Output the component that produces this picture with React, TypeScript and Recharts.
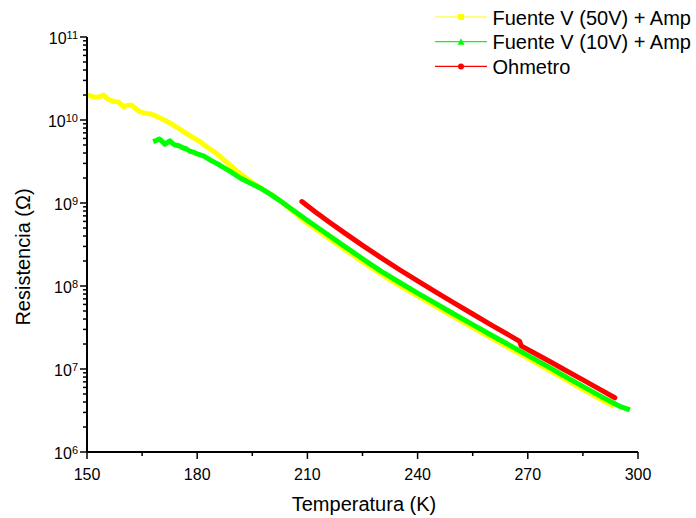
import React from 'react';
import { LineChart, Line, XAxis, YAxis, Legend } from 'recharts';

// Fuente V (50V) + Amp: temperature (K) and resistance (Ohm)
const t50 = [150, 151, 152, 153, 154, 154.5, 155.5, 157, 158.5, 160, 161, 162, 163, 164.5, 166, 167.5, 169, 170.5, 172, 173.5, 175, 177, 179, 181, 182.5, 184.4, 186, 188, 190, 192, 194, 196, 198, 200, 202.5, 205, 210, 215, 220, 225, 230, 235, 240, 245, 250, 255, 260, 265, 270, 275, 280, 285, 290, 293.5];
const r50 = [2.0e10, 1.95e10, 1.88e10, 1.9e10, 1.95e10, 2.0e10, 1.8e10, 1.68e10, 1.65e10, 1.45e10, 1.5e10, 1.52e10, 1.4e10, 1.25e10, 1.2e10, 1.18e10, 1.1e10, 1.03e10, 9.5e9, 8.7e9, 7.9e9, 6.9e9, 6.1e9, 5.4e9, 4.8e9, 4.2e9, 3.7e9, 3.1e9, 2.6e9, 2.2e9, 1.9e9, 1.65e9, 1.45e9, 1.28e9, 1.07e9, 8.7e8, 5.69e8, 3.98e8, 2.79e8, 1.96e8, 1.40e8, 1.02e8, 7.59e7, 5.65e7, 4.22e7, 3.16e7, 2.37e7, 1.79e7, 1.35e7, 1.01e7, 7.59e6, 5.69e6, 4.29e6, 3.55e6];

// Fuente V (10V) + Amp
const t10 = [168, 169, 169.7, 170.5, 171.2, 172, 172.6, 173.3, 174, 175, 176.2, 177, 178, 179, 180, 181.7, 183.5, 185.3, 187, 189, 191.7, 194, 197, 200, 202.5, 205, 210, 215, 220, 225, 230, 235, 240, 245, 250, 255, 260, 265, 270, 275, 280, 285, 290, 295, 297.8];
const r10 = [5.5e9, 5.7e9, 5.9e9, 5.5e9, 5.1e9, 5.4e9, 5.6e9, 5.2e9, 5.0e9, 4.9e9, 4.6e9, 4.5e9, 4.2e9, 4.1e9, 3.9e9, 3.7e9, 3.3e9, 3.0e9, 2.7e9, 2.4e9, 2.0e9, 1.78e9, 1.53e9, 1.27e9, 1.07e9, 8.91e8, 6.17e8, 4.32e8, 3.02e8, 2.13e8, 1.51e8, 1.11e8, 8.22e7, 6.12e7, 4.57e7, 3.43e7, 2.57e7, 1.94e7, 1.46e7, 1.10e7, 8.22e6, 6.17e6, 4.65e6, 3.55e6, 3.21e6];

// Ohmetro
const tOhm = [208.5, 212, 216, 220, 225, 230, 235, 240, 245, 250, 255, 260, 265, 267.8, 268.2, 272, 276, 280, 285, 290, 293.7];
const rOhm = [1.04e9, 7.92e8, 5.87e8, 4.40e8, 3.09e8, 2.20e8, 1.58e8, 1.15e8, 8.45e7, 6.22e7, 4.60e7, 3.41e7, 2.54e7, 2.15e7, 1.9e7, 1.54e7, 1.23e7, 9.8e6, 7.4e6, 5.57e6, 4.5e6];

const X_TICKS = [150, 165, 180, 195, 210, 225, 240, 255, 270, 285, 300];
const X_LABELS = [150, 180, 210, 240, 270, 300];
const Y_DECADES = [6, 7, 8, 9, 10, 11];

const SERIES_NAMES = ['Fuente V (50V) + Amp', 'Fuente V (10V) + Amp', 'Ohmetro'];
const SERIES_COLORS = ['#ffff00', '#00ff00', '#ff0000'];
const MARKERS = ['square', 'triangle', 'circle'];

const FONT = '"Liberation Sans", Arial, sans-serif';

// log ticks: decades plus 2..9 minors
const yTicks: number[] = [];
Y_DECADES.forEach((e) => {
  yTicks.push(Math.pow(10, e));
  if (e < 11) for (let m = 2; m <= 9; m++) yTicks.push(m * Math.pow(10, e));
});

const toPoints = (t: number[], r: number[]) => t.map((x, i) => ({ t: x, r: r[i] }));
const pts50 = toPoints(t50, r50);
const pts10 = toPoints(t10, r10);
const ptsOhm = toPoints(tOhm, rOhm);

const XTick = ({ x, y, payload }: any) => {
  const v = payload.value;
  const major = X_LABELS.includes(v);
  return (
    <g>
      <line x1={x} x2={x} y1={y} y2={y + (major ? 7 : 4)} stroke="#000" strokeWidth={1.5} />
      {major && (
        <text x={x} y={y + 28} textAnchor="middle" fontSize={16} fill="#000" fontFamily={FONT}>
          {v}
        </text>
      )}
    </g>
  );
};

const YTick = ({ x, y, payload }: any) => {
  const lg = Math.log10(payload.value);
  const exp = Math.round(lg);
  const major = Math.abs(lg - exp) < 1e-6;
  return (
    <g>
      <line x1={x - (major ? 7 : 4)} x2={x} y1={y} y2={y} stroke="#000" strokeWidth={1.5} />
      {major && (
        <text x={x - 9} y={y + 7} textAnchor="end" fontSize={16} fill="#000" fontFamily={FONT}>
          10
          <tspan dy={-5} fontSize={11}>
            {exp}
          </tspan>
        </text>
      )}
    </g>
  );
};

const Marker = ({ kind, cx, cy, color }: any) => {
  if (kind === 'square') return <rect x={cx - 3} y={cy - 3} width={6} height={6} fill={color} />;
  if (kind === 'triangle')
    return <polygon points={`${cx},${cy - 3.5} ${cx - 3.5},${cy + 3} ${cx + 3.5},${cy + 3}`} fill={color} />;
  return <circle cx={cx} cy={cy} r={3} fill={color} />;
};

const LegendBox = ({ payload }: any) => {
  const items = [...(payload || [])].sort(
    (a: any, b: any) => SERIES_NAMES.indexOf(a.value) - SERIES_NAMES.indexOf(b.value)
  );
  return (
    <svg width={266} height={80}>
      {items.map((item: any) => {
        const i = SERIES_NAMES.indexOf(item.value);
        const ly = 17 + i * 24.7;
        return (
          <g key={item.value}>
            <line x1={5} x2={57} y1={ly} y2={ly} stroke={item.color} strokeWidth={1.2} />
            <Marker kind={MARKERS[i]} cx={31} cy={ly} color={item.color} />
            <text x={62.5} y={ly + 7.5} fontSize={20} fill="#000" fontFamily={FONT}>
              {item.value}
            </text>
          </g>
        );
      })}
    </svg>
  );
};

const YLabel = () => (
  <text
    x={23}
    y={257}
    transform="rotate(-90, 23, 257)"
    textAnchor="middle"
    dominantBaseline="central"
    fontSize={20}
    fill="#000"
    fontFamily={FONT}
  >
    Resistencia (Ω)
  </text>
);

const XLabel = () => (
  <text x={364} y={511} textAnchor="middle" fontSize={20} fill="#000" fontFamily={FONT}>
    Temperatura (K)
  </text>
);

export default function App() {
  return (
    <div style={{ position: 'absolute', left: 0, top: 0, background: '#fff' }}>
      <LineChart
        width={696}
        height={518}
        margin={{ top: 37, right: 58, bottom: 0, left: 0 }}
        style={{ fontFamily: FONT }}
      >
        <XAxis
          type="number"
          dataKey="t"
          domain={[150, 300]}
          ticks={X_TICKS}
          interval={0}
          allowDataOverflow
          height={66}
          tickSize={0}
          tickMargin={0}
          tickLine={false}
          tick={<XTick />}
          axisLine={{ stroke: '#000', strokeWidth: 2 }}
          label={<XLabel />}
        />
        <YAxis
          type="number"
          scale="log"
          domain={[1e6, 1e11]}
          ticks={yTicks}
          interval={0}
          allowDataOverflow
          width={87}
          tickSize={0}
          tickMargin={0}
          tickLine={false}
          tick={<YTick />}
          axisLine={{ stroke: '#000', strokeWidth: 2 }}
          label={<YLabel />}
        />
        <Legend
          layout="vertical"
          align="center"
          verticalAlign="middle"
          wrapperStyle={{ left: 430, top: 0, width: 266 }}
          content={<LegendBox />}
        />
        <Line
          data={pts50}
          dataKey="r"
          name={SERIES_NAMES[0]}
          stroke={SERIES_COLORS[0]}
          strokeWidth={5}
          strokeLinejoin="round"
          dot={false}
          isAnimationActive={false}
        />
        <Line
          data={pts10}
          dataKey="r"
          name={SERIES_NAMES[1]}
          stroke={SERIES_COLORS[1]}
          strokeWidth={5}
          strokeLinejoin="round"
          dot={false}
          isAnimationActive={false}
        />
        <Line
          data={ptsOhm}
          dataKey="r"
          name={SERIES_NAMES[2]}
          stroke={SERIES_COLORS[2]}
          strokeWidth={5}
          strokeLinecap="round"
          strokeLinejoin="round"
          dot={false}
          isAnimationActive={false}
        />
      </LineChart>
    </div>
  );
}
